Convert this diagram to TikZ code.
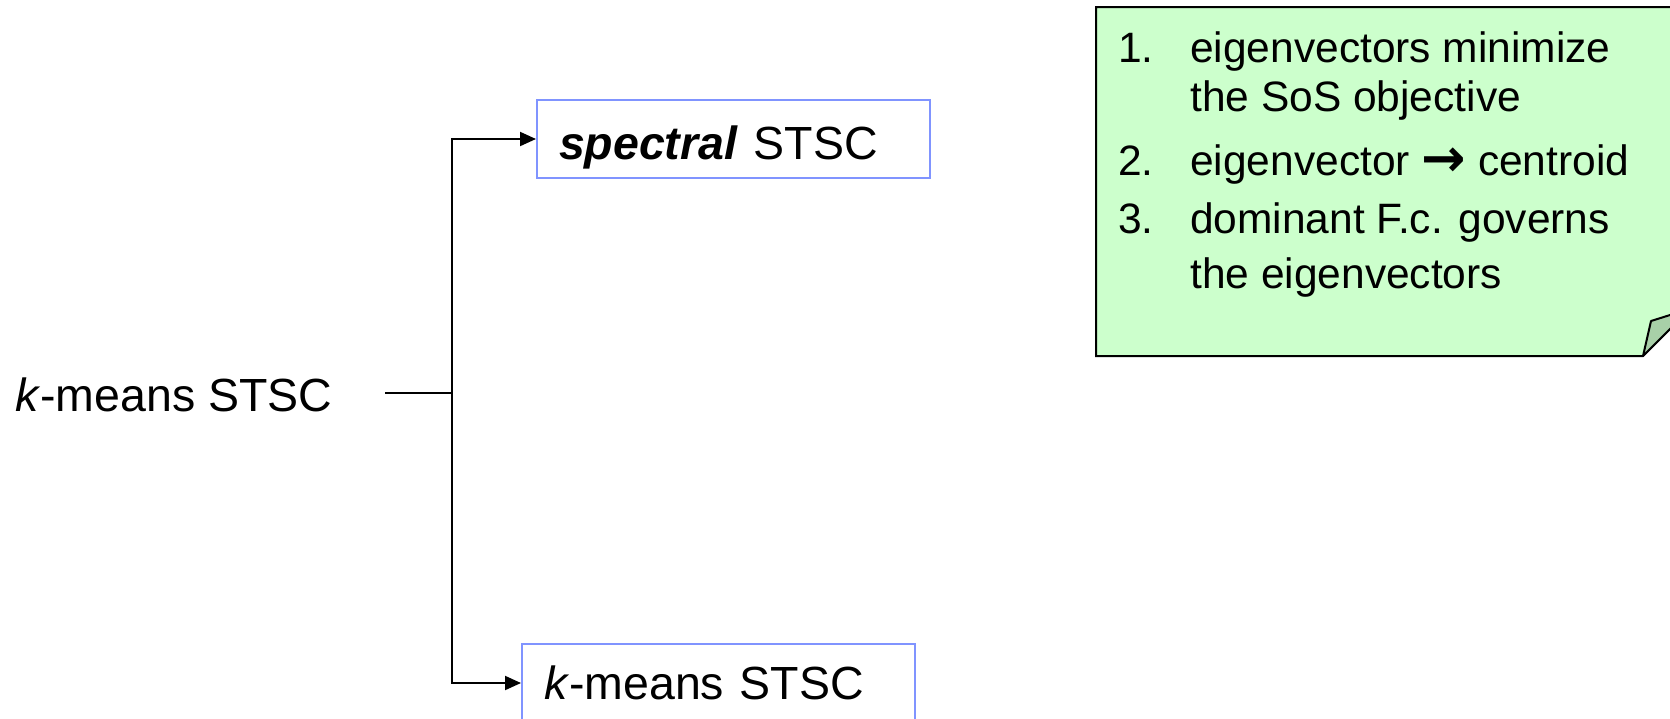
\documentclass[tikz,border=0pt]{standalone}
\usepackage{fontspec}
\setmainfont{Liberation Sans}
\newfontfamily\symfont{DejaVu Sans}
\usetikzlibrary{arrows.meta}
\definecolor{notegreen}{RGB}{204,255,204}
\definecolor{curlgreen}{RGB}{168,208,168}
\definecolor{boxblue}{RGB}{128,148,255}
\begin{document}
\begin{tikzpicture}[x=1pt,y=-1pt,
  bigtext/.style={font=\fontsize{46.5}{56}\selectfont},
  notetext/.style={font=\fontsize{42.5}{51}\selectfont, anchor=base west, inner sep=0pt},
  stagebox/.style={draw=boxblue, line width=2pt, anchor=north west,
    inner xsep=22pt, inner ysep=0pt, text width=349pt, align=left, bigtext},
  conn/.style={line width=2pt},
  tip/.style={-{Triangle[length=16pt,width=14pt]}}]
\clip (0,0) rectangle (1670,718);

% sticky note with a curled lower-right corner
\path[fill=notegreen, draw=black, line width=2pt]
  (1096,7) -- (1740,7) -- (1740,259) -- (1643,356) -- (1096,356) -- cycle;
\path[fill=curlgreen, draw=black, line width=2pt, line join=round]
  (1643,356) -- (1651,321) -- (1740,293) -- (1740,259) -- cycle;

\node[notetext] (n1)  at (1118,62)  {1.};
\node[notetext] (t1a) at (1190,62)  {eigenvectors minimize};
\node[notetext] (t1b) at (1190,111) {the SoS objective};
\node[notetext] (n2)  at (1118,175) {2.};
\node[notetext] (t2)  at (1190,175)
  {eigenvector \raisebox{-1pt}{\scalebox{1.25}{\symfont\bfseries →}} centroid};
\node[notetext] (n3)  at (1118,233) {3.};
\node[notetext] (t3a) at (1190,233) {dominant F.c. governs};
\node[notetext] (t3b) at (1190,288) {the eigenvectors};

% source method and the two variants
\node[bigtext, anchor=base west, inner sep=0pt] (src) at (15,411) {\textit{k}-means STSC};
\node[stagebox, text height=59pt, text depth=19pt] (spec) at (536,99)
  {\textbf{\textit{spectral}} STSC};
\node[stagebox, text height=55pt, text depth=23pt] (kbox) at (521,643)
  {\textit{k}-means STSC};

\coordinate (out)  at (385,393);
\coordinate (fork) at (452,393);
\draw[conn] (out) -- (fork);
\draw[conn, tip] (fork) |- (spec.west);
\draw[conn, tip] (fork) |- (kbox.west);
\end{tikzpicture}
\end{document}
